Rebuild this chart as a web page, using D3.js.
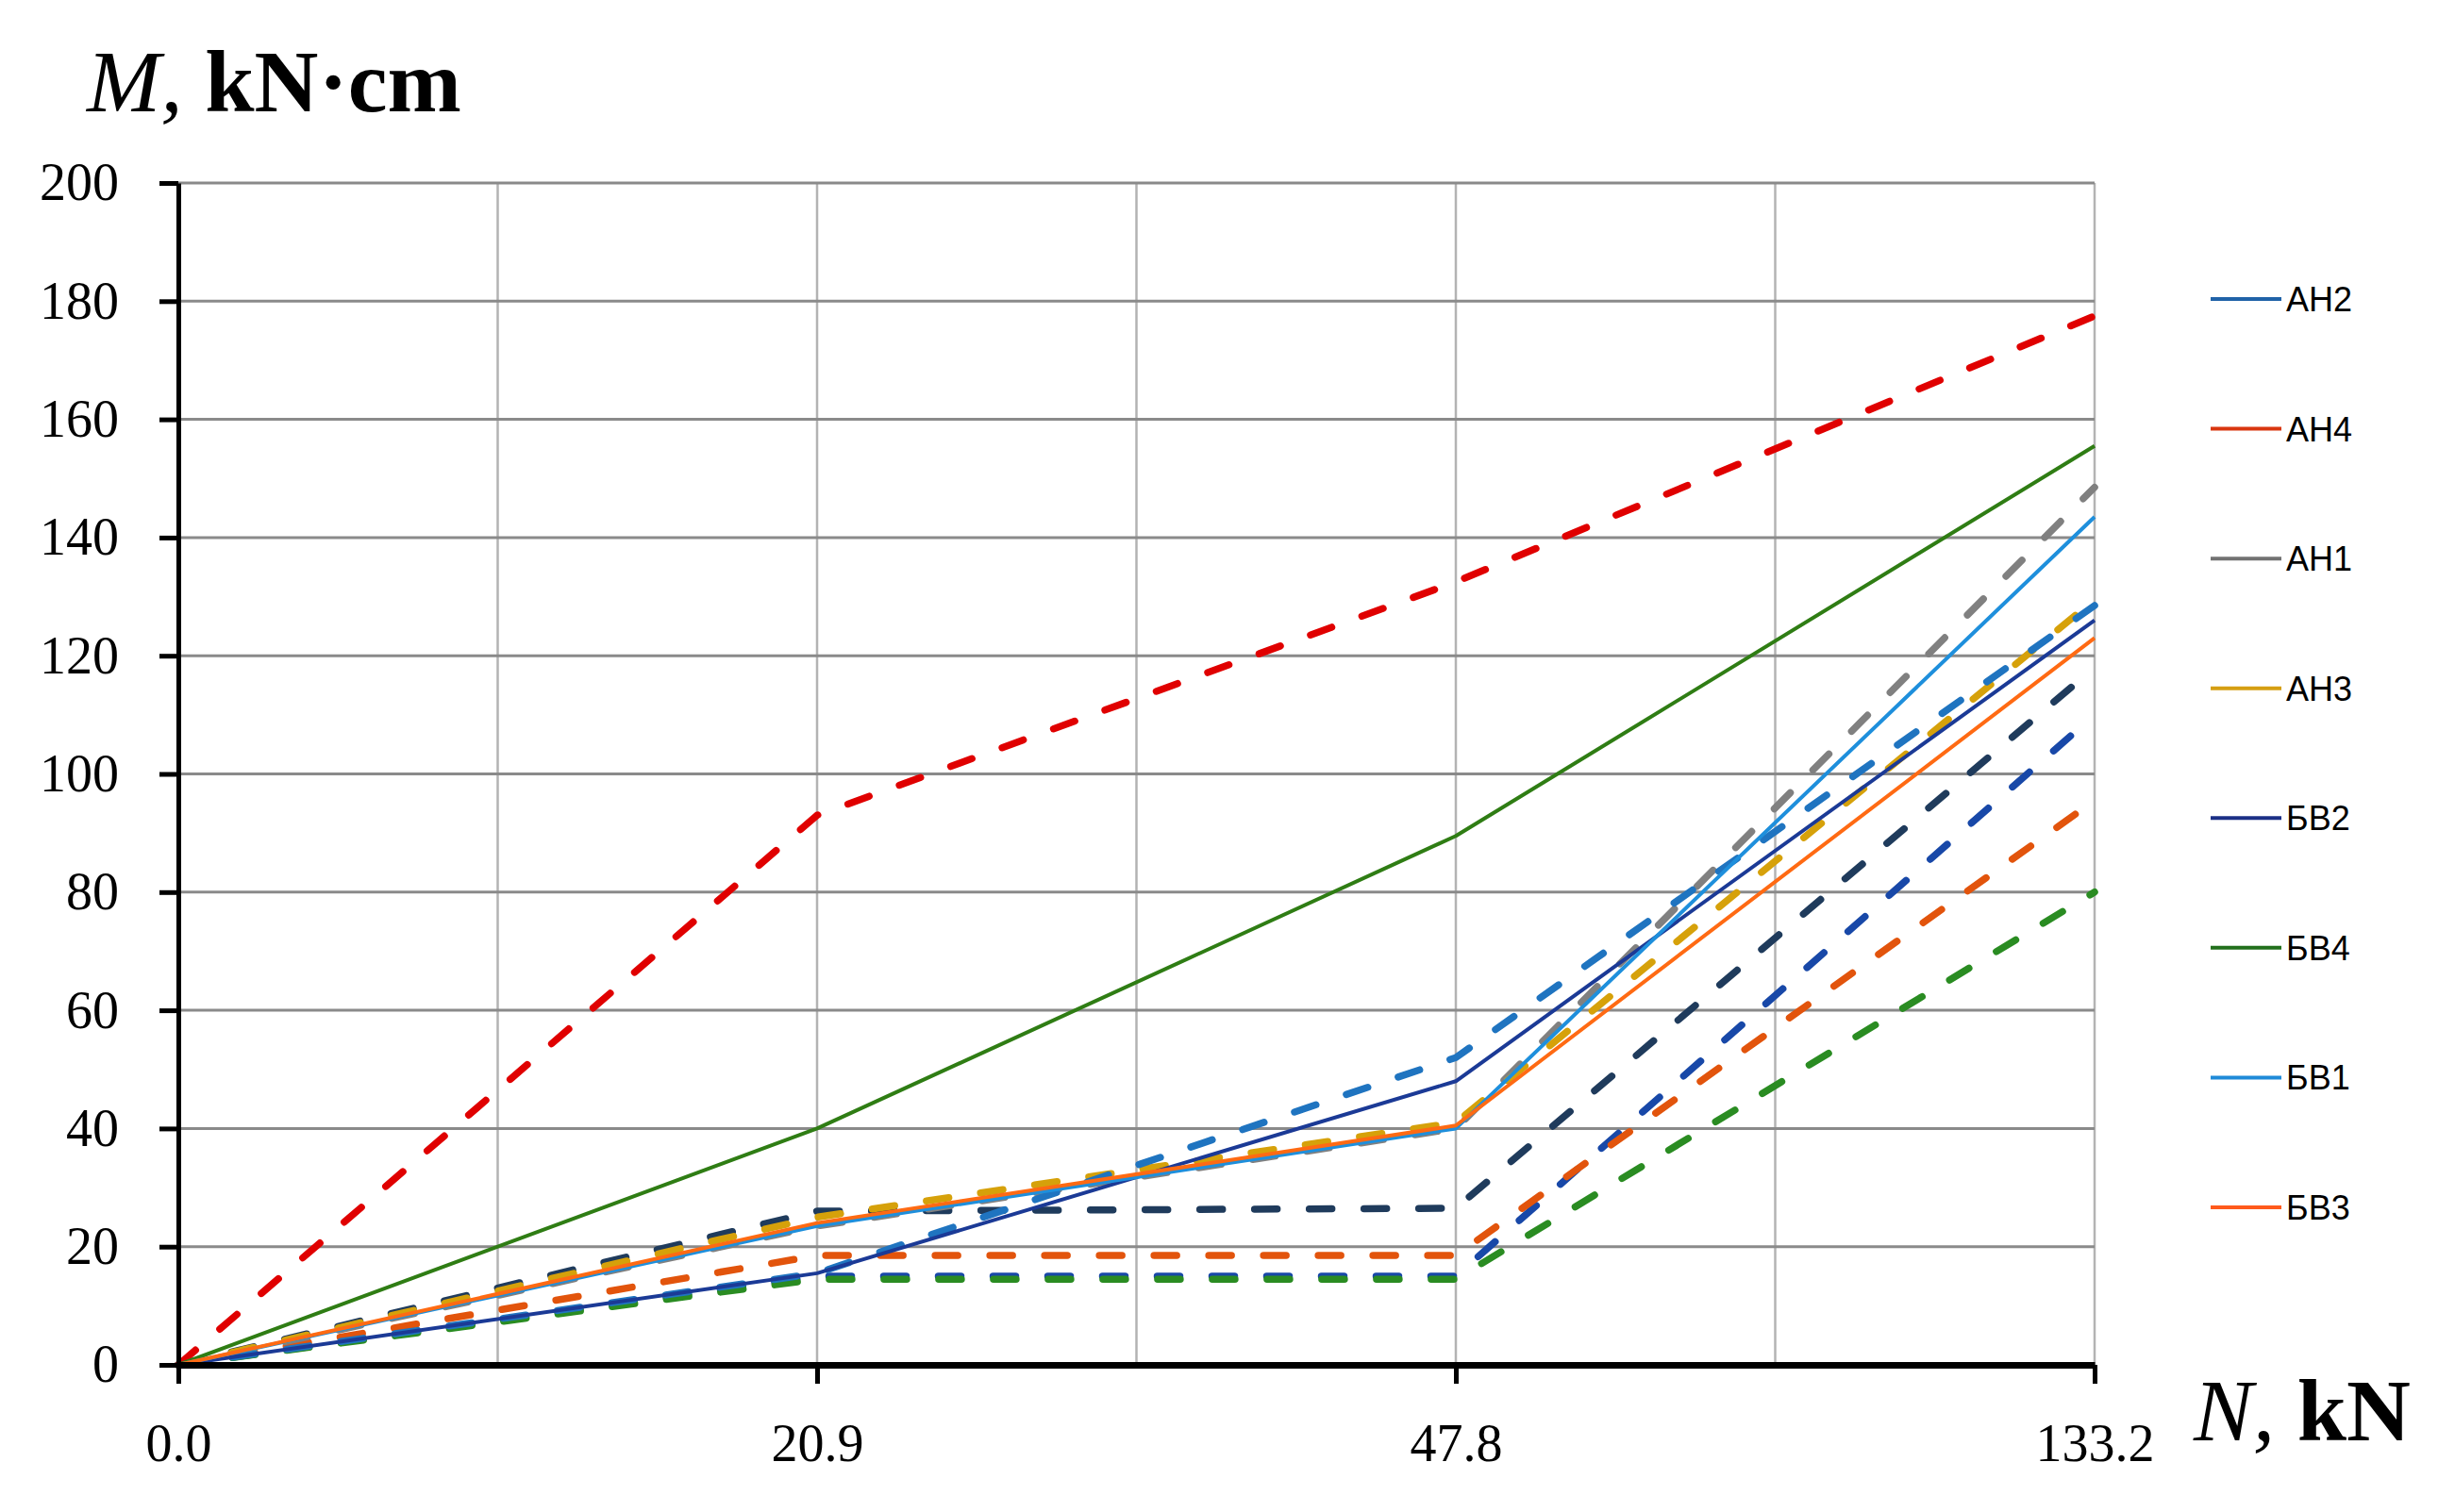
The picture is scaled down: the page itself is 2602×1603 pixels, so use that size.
<!DOCTYPE html>
<html lang="en">
<head>
<meta charset="utf-8">
<title>M - N</title>
<script src="https://cdn.jsdelivr.net/npm/d3@7"></script>
<style>
body { margin: 0; background: #fff; }
</style>
</head>
<body>
<script>
var w = 2602;
var h = 1603;

// categories on the N axis, kN
var categories = ["0.0", "20.9", "47.8", "133.2"];
var yTicks = d3.range(0, 201, 20);

// solid lines (legend series BV)
var bv2 = [0, 15.5, 48, 126];
var bv4 = [0, 40, 89.5, 155.5];
var bv1 = [0, 23.5, 40, 143.5];
var bv3 = [0, 24, 40.5, 123];

// dashed lines
var ah2 = [0, 15.5, 52, 128.5];
var ah4 = [0, 93, 132.5, 177.5];
var ah1 = [0, 23.5, 40, 148.5];
var ah3 = [0, 25, 41, 129.5];
var dNavy = [0, 26, 26.5, 118];
var dBlue = [0, 15, 15, 110];
var dOrange = [0, 18.5, 18.5, 95.5];
var dGreen = [0, 14.5, 14.5, 80];

var legendNames = ["АН2", "АН4", "АН1", "АН3", "БВ2", "БВ4", "БВ1", "БВ3"];
var legendColors = ["#2062a8", "#d9360f", "#727272", "#d59e12", "#1b2f86", "#22701c", "#1f8ad8", "#ff5a1c"];

var dashed = [
  {values: dNavy, color: "#1f3b5c"},
  {values: dBlue, color: "#1848a8"},
  {values: dOrange, color: "#e2540c"},
  {values: dGreen, color: "#2a8c22"},
  {values: ah1, color: "#808080"},
  {values: ah3, color: "#d6a10a"},
  {values: ah2, color: "#1f74c0"},
  {values: ah4, color: "#e00000"}
];
var solid = [
  {values: bv4, color: "#2f7d14"},
  {values: bv2, color: "#1b3a96"},
  {values: bv1, color: "#1e8fdc"},
  {values: bv3, color: "#ff6a13"}
];

// plot box (window.top is read-only, so no "top" here)
var plotL = 189, plotR = 2220, plotT = 194, plotB = 1447;

var xScale = d3.scalePoint().domain(categories).range([plotL, plotR]);
var xGrid = d3.scaleLinear().domain([0, categories.length - 1]).range([plotL, plotR]);
var yScale = d3.scaleLinear().domain([0, 200]).range([plotB, plotT]);

var svg = d3.select("body").append("svg")
  .attr("width", w)
  .attr("height", h)
  .style("font-family", "'Liberation Serif', 'DejaVu Serif', serif");

svg.append("rect").attr("width", w).attr("height", h).attr("fill", "#fff");

// grid
svg.append("g").selectAll("line")
  .data(d3.range(0.5, categories.length - 0.99, 0.5))
  .enter().append("line")
  .attr("x1", function(d){ return xGrid(d); })
  .attr("x2", function(d){ return xGrid(d); })
  .attr("y1", plotT)
  .attr("y2", plotB)
  .attr("stroke", "#b3b3b3")
  .attr("stroke-width", 2.5);

svg.append("g").selectAll("line")
  .data(yTicks.slice(1))
  .enter().append("line")
  .attr("x1", plotL)
  .attr("x2", plotR)
  .attr("y1", function(d){ return yScale(d); })
  .attr("y2", function(d){ return yScale(d); })
  .attr("stroke", "#8a8a8a")
  .attr("stroke-width", 3);

var line = d3.line()
  .x(function(d, i){ return xScale(categories[i]); })
  .y(function(d){ return yScale(d); });

svg.append("g").selectAll("path")
  .data(dashed)
  .enter().append("path")
  .attr("d", function(d){ return line(d.values); })
  .attr("fill", "none")
  .attr("stroke", function(d){ return d.color; })
  .attr("stroke-width", 7.5)
  .attr("stroke-linecap", "round")
  .attr("stroke-linejoin", "round")
  .attr("stroke-dasharray", "24 34");

svg.append("g").selectAll("path")
  .data(solid)
  .enter().append("path")
  .attr("d", function(d){ return line(d.values); })
  .attr("fill", "none")
  .attr("stroke", function(d){ return d.color; })
  .attr("stroke-width", 4)
  .attr("stroke-linejoin", "round");

// axes
var yAxis = d3.axisLeft(yScale).tickValues(yTicks).tickSize(20).tickSizeOuter(0).tickPadding(43);
var gy = svg.append("g")
  .attr("transform", "translate(" + plotL + ",0)")
  .call(yAxis);
gy.select(".domain").attr("stroke", "#000").attr("stroke-width", 5);
gy.selectAll(".tick line").attr("stroke", "#000").attr("stroke-width", 5);
gy.selectAll(".tick text")
  .attr("fill", "#000")
  .style("font-size", "56px")
  .style("font-family", "'Liberation Serif', serif");

var xAxis = d3.axisBottom(xScale).tickSize(20).tickSizeOuter(0).tickPadding(42);
var gx = svg.append("g")
  .attr("transform", "translate(0," + plotB + ")")
  .call(xAxis);
gx.select(".domain").attr("stroke", "#000").attr("stroke-width", 7);
gx.selectAll(".tick line").attr("stroke", "#000").attr("stroke-width", 5);
gx.selectAll(".tick text")
  .attr("fill", "#000")
  .style("font-size", "56px")
  .style("font-family", "'Liberation Serif', serif");

// axis titles
var yt = svg.append("text").attr("x", 92).attr("y", 118)
  .style("font-size", "94px").attr("fill", "#000");
yt.append("tspan").style("font-style", "italic").text("M,");
yt.append("tspan").style("font-weight", "bold").text(" kN·cm");

var xt = svg.append("text").attr("x", 2325).attr("y", 1527)
  .style("font-size", "94px").attr("fill", "#000");
xt.append("tspan").style("font-style", "italic").text("N,");
xt.append("tspan").style("font-weight", "bold").text(" kN");

// legend
var legendY = d3.scalePoint().domain(legendNames).range([317, 1280]);
var lg = svg.append("g").selectAll("g")
  .data(legendNames)
  .enter().append("g")
  .attr("transform", function(d){ return "translate(0," + legendY(d) + ")"; });
lg.append("line")
  .attr("x1", 2343).attr("x2", 2418)
  .attr("stroke", function(d, i){ return legendColors[i]; })
  .attr("stroke-width", 4);
lg.append("text")
  .attr("x", 2423)
  .attr("dy", "0.36em")
  .style("font-family", "'Liberation Sans', Arial, sans-serif")
  .style("font-size", "36px")
  .attr("fill", "#000")
  .text(function(d){ return d; });
</script>
</body>
</html>
